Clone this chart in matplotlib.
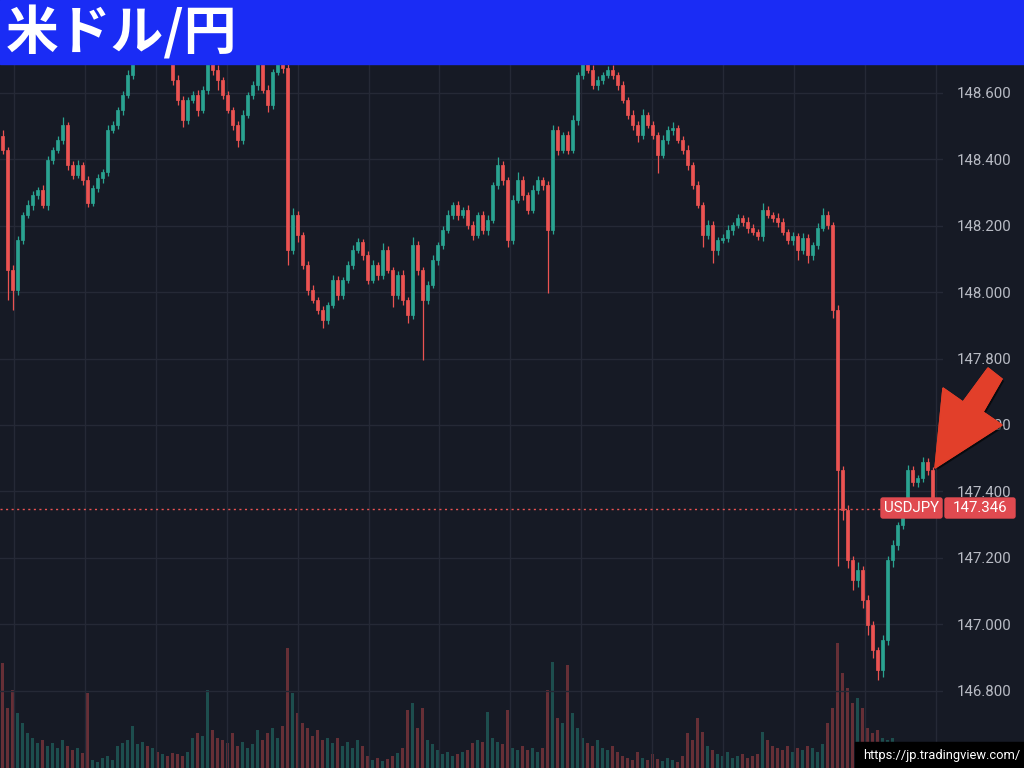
import numpy as np
import matplotlib
matplotlib.use("Agg")
import matplotlib.pyplot as plt
from matplotlib.patches import Rectangle, Polygon, FancyBboxPatch
import matplotlib.patheffects as pe

# ---------------- data ----------------
title = "米ドル/円"
symbol = "USDJPY"
source_url = "https://jp.tradingview.com/"
first_open = 148.470

close = [
    148.428, 148.067, 148.007, 148.157, 148.233, 148.263, 148.293, 148.308, 148.263, 148.398,
    148.428, 148.458, 148.504, 148.383, 148.353, 148.383, 148.338, 148.269, 148.314, 148.344,
    148.362, 148.489, 148.504, 148.549, 148.594, 148.654, 148.714, 148.745, 148.760, 148.745,
    148.760, 148.745, 148.760, 148.730, 148.639, 148.579, 148.519, 148.579, 148.594, 148.549,
    148.609, 148.699, 148.669, 148.639, 148.594, 148.549, 148.504, 148.458, 148.534, 148.594,
    148.624, 148.693, 148.609, 148.564, 148.663, 148.699, 148.675, 148.127, 148.233, 148.172,
    148.082, 148.007, 147.977, 147.946, 147.916, 147.961, 148.037, 147.992, 148.037, 148.082,
    148.127, 148.151, 148.112, 148.037, 148.082, 148.052, 148.127, 148.067, 147.992, 148.052,
    147.977, 147.931, 148.142, 148.067, 147.977, 148.022, 148.097, 148.142, 148.187, 148.233,
    148.263, 148.233, 148.248, 148.202, 148.172, 148.233, 148.187, 148.217, 148.323, 148.383,
    148.338, 148.157, 148.278, 148.338, 148.293, 148.248, 148.308, 148.338, 148.323, 148.187,
    148.489, 148.428, 148.473, 148.428, 148.519, 148.654, 148.714, 148.669, 148.624, 148.639,
    148.654, 148.669, 148.654, 148.624, 148.579, 148.534, 148.504, 148.473, 148.534, 148.504,
    148.473, 148.413, 148.458, 148.489, 148.495, 148.458, 148.428, 148.383, 148.323, 148.263,
    148.172, 148.202, 148.127, 148.157, 148.163, 148.187, 148.202, 148.223, 148.211, 148.193,
    148.181, 148.169, 148.248, 148.233, 148.223, 148.211, 148.181, 148.157, 148.169, 148.127,
    148.163, 148.112, 148.142, 148.193, 148.233, 148.202, 147.946, 147.464, 147.344, 147.193,
    147.133, 147.163, 147.073, 146.998, 146.922, 146.862, 146.952, 147.193, 147.239, 147.299,
    147.344, 147.464, 147.428, 147.440, 147.489, 147.464, 147.346]

wick_hi = [
    0.020, 0.010, 0.015, 0.012, 0.010, 0.015, 0.012, 0.010, 0.015, 0.012,
    0.010, 0.012, 0.024, 0.010, 0.012, 0.015, 0.010, 0.012, 0.010, 0.012,
    0.010, 0.015, 0.012, 0.010, 0.012, 0.015, 0.010, 0.012, 0.010, 0.012,
    0.010, 0.012, 0.010, 0.012, 0.010, 0.015, 0.012, 0.010, 0.012, 0.015,
    0.012, 0.010, 0.012, 0.015, 0.010, 0.012, 0.010, 0.012, 0.015, 0.010,
    0.012, 0.010, 0.012, 0.015, 0.010, 0.012, 0.010, 0.015, 0.020, 0.012,
    0.010, 0.012, 0.015, 0.010, 0.012, 0.010, 0.015, 0.012, 0.010, 0.012,
    0.015, 0.012, 0.010, 0.012, 0.015, 0.010, 0.020, 0.012, 0.010, 0.012,
    0.015, 0.010, 0.025, 0.012, 0.010, 0.012, 0.015, 0.010, 0.012, 0.015,
    0.010, 0.012, 0.010, 0.015, 0.012, 0.010, 0.012, 0.015, 0.010, 0.024,
    0.012, 0.010, 0.015, 0.024, 0.012, 0.010, 0.015, 0.012, 0.010, 0.012,
    0.015, 0.012, 0.010, 0.012, 0.015, 0.010, 0.012, 0.010, 0.015, 0.012,
    0.010, 0.012, 0.015, 0.010, 0.012, 0.010, 0.015, 0.012, 0.018, 0.010,
    0.012, 0.010, 0.015, 0.012, 0.018, 0.010, 0.012, 0.015, 0.010, 0.012,
    0.010, 0.015, 0.012, 0.010, 0.012, 0.015, 0.010, 0.012, 0.010, 0.015,
    0.012, 0.010, 0.020, 0.012, 0.010, 0.015, 0.012, 0.010, 0.012, 0.010,
    0.015, 0.012, 0.010, 0.015, 0.020, 0.012, 0.010, 0.015, 0.012, 0.015,
    0.012, 0.025, 0.012, 0.015, 0.012, 0.010, 0.015, 0.012, 0.015, 0.010,
    0.012, 0.015, 0.012, 0.010, 0.015, 0.012, 0.010]

wick_lo = [
    0.012, 0.090, 0.060, 0.015, 0.012, 0.010, 0.015, 0.012, 0.010, 0.015,
    0.012, 0.010, 0.012, 0.015, 0.012, 0.010, 0.015, 0.012, 0.010, 0.012,
    0.015, 0.012, 0.010, 0.012, 0.015, 0.010, 0.012, 0.010, 0.012, 0.015,
    0.012, 0.010, 0.012, 0.010, 0.015, 0.015, 0.020, 0.012, 0.010, 0.018,
    0.010, 0.012, 0.015, 0.030, 0.012, 0.010, 0.015, 0.022, 0.012, 0.010,
    0.012, 0.015, 0.010, 0.022, 0.012, 0.010, 0.015, 0.045, 0.012, 0.020,
    0.012, 0.015, 0.010, 0.012, 0.024, 0.012, 0.010, 0.015, 0.012, 0.010,
    0.012, 0.010, 0.015, 0.012, 0.010, 0.015, 0.012, 0.010, 0.037, 0.012,
    0.015, 0.024, 0.012, 0.015, 0.180, 0.012, 0.010, 0.015, 0.012, 0.010,
    0.012, 0.015, 0.010, 0.012, 0.015, 0.010, 0.012, 0.015, 0.010, 0.012,
    0.015, 0.021, 0.012, 0.010, 0.015, 0.012, 0.010, 0.012, 0.015, 0.190,
    0.012, 0.015, 0.010, 0.012, 0.010, 0.015, 0.012, 0.010, 0.012, 0.015,
    0.012, 0.010, 0.012, 0.015, 0.010, 0.012, 0.015, 0.020, 0.012, 0.010,
    0.012, 0.054, 0.010, 0.012, 0.015, 0.010, 0.012, 0.015, 0.012, 0.010,
    0.036, 0.012, 0.039, 0.015, 0.010, 0.012, 0.015, 0.010, 0.012, 0.015,
    0.010, 0.012, 0.015, 0.010, 0.012, 0.015, 0.010, 0.012, 0.015, 0.030,
    0.012, 0.024, 0.015, 0.012, 0.010, 0.012, 0.024, 0.290, 0.030, 0.025,
    0.030, 0.020, 0.025, 0.030, 0.025, 0.030, 0.020, 0.015, 0.020, 0.015,
    0.012, 0.015, 0.012, 0.015, 0.012, 0.015, 0.010]

volume = [
    105, 60, 78, 55, 45, 35, 30, 25, 28, 22,
    25, 20, 28, 22, 18, 20, 15, 75, 8, 6,
    10, 12, 8, 22, 25, 28, 42, 24, 26, 22,
    20, 16, 14, 12, 15, 14, 12, 16, 30, 35,
    32, 78, 38, 30, 28, 25, 35, 22, 26, 20,
    24, 38, 28, 35, 40, 30, 42, 120, 75, 55,
    45, 40, 32, 38, 28, 30, 25, 30, 22, 26,
    20, 28, 22, 12, 8, 10, 7, 9, 12, 15,
    20, 58, 65, 40, 60, 28, 24, 18, 14, 16,
    12, 14, 16, 18, 25, 28, 26, 56, 30, 26,
    24, 58, 20, 18, 22, 18, 20, 16, 20, 78,
    106, 50, 45, 103, 55, 40, 30, 25, 22, 28,
    20, 18, 22, 16, 12, 10, 8, 16, 10, 8,
    14, 9, 7, 10, 8, 6, 12, 35, 28, 50,
    36, 22, 18, 14, 12, 16, 10, 12, 14, 10,
    12, 14, 36, 28, 22, 20, 18, 22, 16, 20,
    18, 22, 20, 16, 24, 45, 60, 125, 95, 80,
    65, 70, 60, 40, 35, 38, 30, 28, 30, 26,
    18, 14, 12, 10, 12, 8, 10]

price_ticks = [146.8, 147.0, 147.2, 147.4, 147.6, 147.8, 148.0, 148.2, 148.4, 148.6]

# ---------------- style ----------------
BG = "#161a25"
GRID = "#252936"
UP = "#2aa391"
DN = "#eb5352"
LABEL = "#b8bbc4"
HEADER = "#1a2cf5"
ARROW = "#e23f2a"

W, H = 1024, 768
fig = plt.figure(figsize=(W / 100, H / 100), dpi=100)
fig.patch.set_facecolor(BG)


def px_box(x0, y0, x1, y1):
    return [x0 / W, 1 - y1 / H, (x1 - x0) / W, (y1 - y0) / H]


n = len(close)
idx = np.arange(n)
c = np.array(close)
o = np.concatenate([[first_open], c[:-1]])
hi = np.maximum(o, c) + np.array(wick_hi)
lo = np.minimum(o, c) - np.array(wick_lo)
up = c >= o
cols = np.where(up, UP, DN)

box = px_box(0, 65, 943, 768)

# volume axes (behind)
vax = fig.add_axes(box)
vax.set_zorder(0)
vax.patch.set_visible(False)
vax.bar(idx, volume, width=0.75, color=cols, alpha=0.38, linewidth=0)
vax.set_ylim(0, 703)
vax.set_xlim(-0.5, 188.1)
vax.axis("off")

# price axes
ax = fig.add_axes(box)
ax.set_zorder(1)
ax.patch.set_visible(False)
ax.set_xlim(-0.5, 188.1)
ax.set_ylim(146.5669, 148.6843)

# grid
for p in price_ticks:
    ax.axhline(p, color=GRID, lw=1.0, zorder=0)
for t in np.arange(2.3, 188, 14.18):
    ax.axvline(t, color=GRID, lw=1.0, zorder=0)

ax.vlines(idx, lo, hi, colors=cols, lw=0.9, zorder=2)
ax.bar(idx, np.abs(c - o), bottom=np.minimum(o, c), width=0.5,
       color=cols, edgecolor=cols, linewidth=0.5, zorder=3)

ax.axhline(c[-1], color=DN, lw=1.0, ls=(0, (1.5, 2.5)), zorder=4)

for s in ax.spines.values():
    s.set_visible(False)
ax.set_xticks([])
ax.yaxis.tick_right()
ax.set_yticks(price_ticks)
ax.set_yticklabels([f"{p:.3f}" for p in price_ticks])
ax.tick_params(axis="y", length=0, pad=10, labelsize=10.8, labelcolor=LABEL)
for lab in ax.get_yticklabels():
    lab.set_family(["Roboto", "DejaVu Sans"])

# overlay (header, labels, arrow, source)
ov = fig.add_axes([0, 0, 1, 1])
ov.set_zorder(5)
ov.set_xlim(0, W)
ov.set_ylim(H, 0)
ov.axis("off")
ov.patch.set_visible(False)

ov.add_patch(Rectangle((0, 0), W, 64, color=HEADER, zorder=1))
ov.text(6, 33, title, color="white", fontsize=38, fontweight="bold",
        va="center", ha="left", family=["Noto Sans CJK JP", "DejaVu Sans"], zorder=2)

ov.add_patch(FancyBboxPatch((881, 498), 61, 20, boxstyle="round,pad=0,rounding_size=2",
                            color="#e04a50", zorder=2))
ov.text(911.5, 508.5, symbol, color="white", fontsize=10.8, ha="center", va="center",
        family=["Roboto", "DejaVu Sans"], zorder=3)
ov.add_patch(FancyBboxPatch((945, 498), 70, 20, boxstyle="round,pad=0,rounding_size=2",
                            color="#e04a50", zorder=2))
ov.text(980, 508.5, f"{c[-1]:.3f}", color="white", fontsize=10.8, ha="center", va="center",
        family=["Roboto", "DejaVu Sans"], zorder=3)

arrow_pts = [(935, 468), (943, 388), (963, 402), (988, 368), (1002, 379), (983, 412), (1002, 425)]
ov.add_patch(Polygon(arrow_pts, closed=True, color=ARROW, zorder=4,
                     path_effects=[pe.withSimplePatchShadow(offset=(1.5, -1.5), shadow_rgbFace="black", alpha=0.6),
                                   pe.Normal()]))

ov.add_patch(Rectangle((855, 742), W - 855, H - 742, color="black", zorder=4))
ov.text(1020, 755.5, source_url, color="white", fontsize=9.3, ha="right", va="center",
        family=["Roboto", "DejaVu Sans"], zorder=5)

fig.savefig("out.png", dpi=100, facecolor=BG)
